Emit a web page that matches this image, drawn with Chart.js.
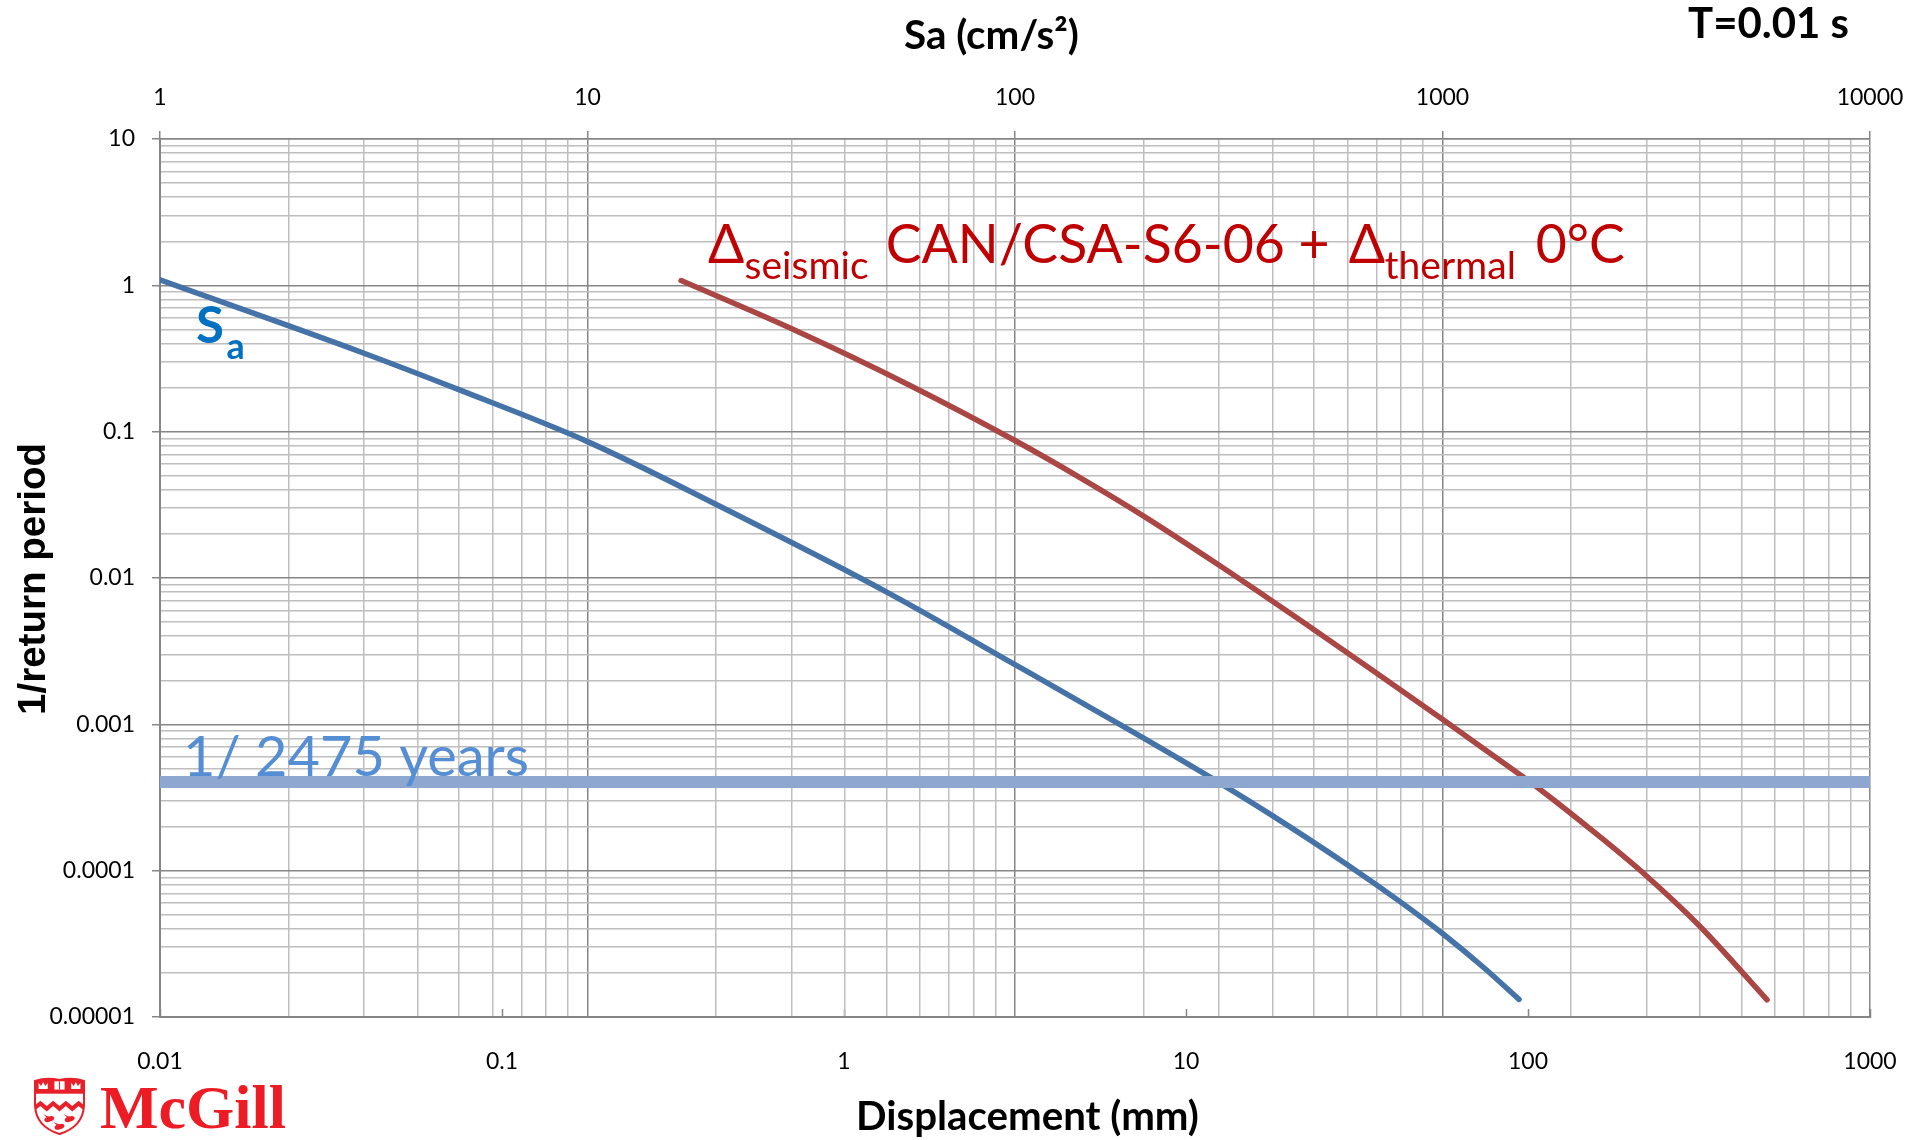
<!DOCTYPE html>
<html>
<head>
<meta charset="utf-8">
<script src="https://cdn.jsdelivr.net/npm/chart.js@4.4.1/dist/chart.umd.min.js"></script>
<style>
  html, body { margin: 0; padding: 0; background: #ffffff; }
  #wrap { width: 1909px; height: 1140px; position: relative; }
</style>
</head>
<body>
<div id="wrap"><canvas id="c" width="1909" height="1140"></canvas></div>
<script>
// ---------------- DATA ----------------
// Hazard curve of spectral acceleration Sa (top axis, cm/s^2)
const saValues = [1, 3, 5, 10, 20, 50, 100, 200, 300, 400, 600, 800, 1000, 1250, 1510];
const saRates  = [1.089, 0.3436, 0.1936, 0.0855, 0.0318, 0.00804, 0.00256, 0.000804, 0.000400,
                  0.000238, 0.0001094, 0.0000607, 0.0000372, 0.0000217, 0.0000132];

// Displacement demand curve (bottom axis, mm)
const dispValues = [0.334, 0.706, 1.56, 3.18, 4.91, 7.54, 12.6, 17.2, 21.6, 34.5, 56.6, 94.8,
                    108.5, 162.5, 220, 318, 500];
const dispRates  = [1.079, 0.503, 0.207, 0.0863, 0.0484, 0.0264, 0.01208, 0.00739, 0.00515, 0.00241,
                    0.00107, 0.000452, 0.000359, 0.000170, 0.0000938, 0.0000417, 0.0000131];

// Design return period (horizontal line)
const designReturnPeriod = 2475;

// Axis ticks
const saMajorTicks   = [1, 10, 100, 1000, 10000];
const saTickLabels   = ['1', '10', '100', '1000', '10000'];
const dispMajorTicks = [0.01, 0.1, 1, 10, 100, 1000];
const dispTickLabels = ['0.01', '0.1', '1', '10', '100', '1000'];
const rateMajorTicks = [0.00001, 0.0001, 0.001, 0.01, 0.1, 1, 10];
const rateTickLabels = ['0.00001', '0.0001', '0.001', '0.01', '0.1', '1', '10'];

// ---------------- STYLE ----------------
const GRID_MAJOR = '#868686';
const GRID_MINOR = '#BEBEBE';
const TICK_FONT = { family: "Lato, 'Open Sans', sans-serif", size: 23 };

function sameLog(a, b) { return Math.abs(Math.log10(a) - Math.log10(b)) < 1e-6; }
function isMajor(majors, v) { return majors.some(m => sameLog(m, v)); }
function withMinors(majors) {
  const out = [];
  for (let i = 0; i < majors.length - 1; i++) {
    for (let m = 1; m <= 9; m++) out.push({ value: +(majors[i] * m).toPrecision(6) });
  }
  out.push({ value: majors[majors.length - 1] });
  return out;
}
function labeler(majors, labels) {
  return v => { const i = majors.findIndex(m => sameLog(m, v)); return i >= 0 ? labels[i] : ''; };
}

// ---------------- ANNOTATIONS ----------------
function fitSize(ctx, text, weight, family, targetWidth) {
  ctx.font = weight + ' 100px ' + family;
  return 100 * targetWidth / ctx.measureText(text).width;
}
function fitText(ctx, text, weight, family, x, y, targetWidth, color) {
  const s = fitSize(ctx, text, weight, family, targetWidth);
  ctx.font = weight + ' ' + s + 'px ' + family;
  ctx.fillStyle = color;
  ctx.textAlign = 'left';
  ctx.textBaseline = 'alphabetic';
  ctx.fillText(text, x, y);
  return s;
}
function drawShield(ctx, x, y, w, h) {
  const red = '#E8202A';
  ctx.save();
  ctx.translate(x, y);
  ctx.beginPath();
  ctx.moveTo(1, 5);
  ctx.quadraticCurveTo(w * 0.25, 1, w * 0.5, 4);
  ctx.quadraticCurveTo(w * 0.75, 1, w - 1, 5);
  ctx.lineTo(w - 1, h * 0.5);
  ctx.quadraticCurveTo(w - 2, h * 0.86, w * 0.5, h - 1);
  ctx.quadraticCurveTo(2, h * 0.86, 1, h * 0.5);
  ctx.closePath();
  ctx.fillStyle = '#fff';
  ctx.fill();
  ctx.lineWidth = 2;
  ctx.strokeStyle = red;
  ctx.stroke();
  ctx.save();
  ctx.clip();
  ctx.fillStyle = red;
  ctx.fillRect(0, 0, w, h * 0.3);
  ctx.fillStyle = '#fff';
  ctx.fillRect(w * 0.4, h * 0.09, w * 0.2, h * 0.14);
  ctx.fillStyle = red;
  ctx.fillRect(w * 0.49, h * 0.09, w * 0.02, h * 0.14);
  ctx.fillStyle = '#fff';
  [0.18, 0.82].forEach(cx => {
    ctx.beginPath();
    ctx.moveTo(w * (cx - 0.09), h * 0.22);
    ctx.lineTo(w * (cx - 0.09), h * 0.12);
    ctx.lineTo(w * (cx - 0.04), h * 0.17);
    ctx.lineTo(w * cx, h * 0.1);
    ctx.lineTo(w * (cx + 0.04), h * 0.17);
    ctx.lineTo(w * (cx + 0.09), h * 0.12);
    ctx.lineTo(w * (cx + 0.09), h * 0.22);
    ctx.closePath();
    ctx.fill();
  });
  ctx.fillStyle = red;
  ctx.beginPath();
  const n = 4, top = h * 0.42, amp = h * 0.09, bw = h * 0.09;
  ctx.moveTo(0, top + amp);
  for (let i = 0; i <= n * 2; i++) ctx.lineTo(w * i / (n * 2), i % 2 ? top : top + amp);
  for (let i = n * 2; i >= 0; i--) ctx.lineTo(w * i / (n * 2), (i % 2 ? top : top + amp) + bw);
  ctx.closePath();
  ctx.fill();
  [[0.3, 0.73], [0.7, 0.73], [0.5, 0.86]].forEach(([mx, my]) => {
    ctx.beginPath();
    ctx.ellipse(w * mx, h * my, w * 0.1, h * 0.045, -0.3, 0, Math.PI * 2);
    ctx.fill();
    ctx.beginPath();
    ctx.moveTo(w * (mx - 0.02), h * my);
    ctx.lineTo(w * (mx - 0.12), h * (my - 0.08));
    ctx.lineTo(w * (mx + 0.04), h * (my - 0.02));
    ctx.fill();
  });
  ctx.restore();
  ctx.restore();
}

const annotations = {
  id: 'annotations',
  afterDraw(chart) {
    const ctx = chart.ctx;
    const sans = "Lato, 'Open Sans', sans-serif";
    ctx.save();
    fitText(ctx, 'Sa (cm/s²)', 'bold', sans, 904, 49, 175, '#000');
    fitText(ctx, 'T=0.01 s', 'bold', sans, 1688, 38, 161, '#000');
    fitText(ctx, 'Displacement (mm)', 'bold', sans, 856, 1130, 343, '#000');
    ctx.save();
    ctx.translate(44.5, 579);
    ctx.rotate(-Math.PI / 2);
    const ys = fitSize(ctx, '1/return period', 'bold', "'Liberation Sans', Arial, sans-serif", 272);
    ctx.font = 'bold ' + ys + "px 'Liberation Sans', Arial, sans-serif";
    ctx.fillStyle = '#000';
    ctx.textAlign = 'center';
    ctx.textBaseline = 'alphabetic';
    ctx.fillText('1/return period', 0, 0);
    ctx.restore();
    fitText(ctx, 'S', 'bold', sans, 196, 343, 28, '#0070C0');
    fitText(ctx, 'a', 'bold', sans, 226.4, 359, 18.2, '#0070C0');
    const red = '#C00000';
    const mainSize = fitSize(ctx, 'CAN/CSA-S6-06 +', 'normal', sans, 444);
    const subSize = fitSize(ctx, 'seismic', 'normal', sans, 124);
    ctx.fillStyle = red;
    ctx.textBaseline = 'alphabetic';
    ctx.textAlign = 'left';
    ctx.font = 'normal ' + mainSize + 'px ' + sans;
    ctx.fillText('Δ', 708, 263);
    ctx.fillText('CAN/CSA-S6-06 +', 885.7, 263);
    ctx.fillText('Δ', 1348.8, 263);
    ctx.fillText('0°C', 1535.8, 263);
    ctx.font = 'normal ' + subSize + 'px ' + sans;
    ctx.fillText('seismic', 744.6, 279);
    ctx.fillText('thermal', 1384.5, 279);
    fitText(ctx, '1/ ' + designReturnPeriod + ' years', 'normal', sans, 183, 776, 346, '#558ED5');
    drawShield(ctx, 34, 1076, 51, 59);
    fitText(ctx, 'McGill', 'bold', "'Liberation Serif', 'Times New Roman', serif", 100, 1128, 186, '#ED1C24');
    ctx.restore();
  }
};

// ---------------- CHART ----------------
const rateLine = 1 / designReturnPeriod;
new Chart(document.getElementById('c'), {
  type: 'line',
  data: {
    datasets: [
      {
        label: '1/' + designReturnPeriod + ' years',
        data: [{ x: dispMajorTicks[0], y: rateLine }, { x: dispMajorTicks[dispMajorTicks.length - 1], y: rateLine }],
        xAxisID: 'x', yAxisID: 'y',
        borderColor: '#8DA7D0', borderWidth: 12, pointRadius: 0, borderCapStyle: 'butt'
      },
      {
        label: 'Sa',
        data: saValues.map((v, i) => ({ x: v, y: saRates[i] })),
        xAxisID: 'x2', yAxisID: 'y',
        borderColor: '#4572A7', borderWidth: 5.5, pointRadius: 0,
        borderCapStyle: 'round', borderJoinStyle: 'round', cubicInterpolationMode: 'monotone'
      },
      {
        label: 'Δseismic CAN/CSA-S6-06 + Δthermal 0°C',
        data: dispValues.map((v, i) => ({ x: v, y: dispRates[i] })),
        xAxisID: 'x', yAxisID: 'y',
        borderColor: '#AA4643', borderWidth: 5.5, pointRadius: 0,
        borderCapStyle: 'round', borderJoinStyle: 'round', cubicInterpolationMode: 'monotone'
      }
    ]
  },
  options: {
    responsive: false,
    animation: false,
    events: [],
    layout: { padding: { left: 0, right: 39, top: 0, bottom: 0 } },
    plugins: { legend: { display: false }, tooltip: { enabled: false } },
    scales: {
      x: {
        type: 'logarithmic', position: 'bottom',
        min: dispMajorTicks[0], max: dispMajorTicks[dispMajorTicks.length - 1],
        afterBuildTicks: s => { s.ticks = dispMajorTicks.map(v => ({ value: v })); },
        afterFit: s => { s.height = 123; s.paddingLeft = 0; s.paddingRight = 0; },
        ticks: {
          autoSkip: false, maxRotation: 0, minRotation: 0, padding: 39,
          font: TICK_FONT, color: '#000',
          callback: labeler(dispMajorTicks, dispTickLabels)
        },
        grid: { drawOnChartArea: false, drawTicks: true, tickLength: -8, tickColor: GRID_MAJOR, tickWidth: 1.5 },
        border: { display: true, color: GRID_MAJOR, width: 2 }
      },
      x2: {
        type: 'logarithmic', position: 'top',
        min: saMajorTicks[0], max: saMajorTicks[saMajorTicks.length - 1],
        afterBuildTicks: s => { s.ticks = withMinors(saMajorTicks); },
        afterFit: s => { s.height = 139; s.paddingLeft = 0; s.paddingRight = 0; },
        ticks: {
          autoSkip: false, maxRotation: 0, minRotation: 0, padding: 20,
          font: TICK_FONT, color: '#000',
          callback: labeler(saMajorTicks, saTickLabels)
        },
        grid: {
          color: c => (c.tick && isMajor(saMajorTicks, c.tick.value)) ? GRID_MAJOR : GRID_MINOR,
          lineWidth: 1.5, tickLength: 8, tickWidth: 1.5,
          tickColor: c => (c.tick && isMajor(saMajorTicks, c.tick.value)) ? GRID_MAJOR : 'rgba(0,0,0,0)'
        },
        border: { display: true, color: GRID_MAJOR, width: 1.5 }
      },
      y: {
        type: 'logarithmic', position: 'left',
        min: rateMajorTicks[0], max: rateMajorTicks[rateMajorTicks.length - 1],
        afterBuildTicks: s => { s.ticks = withMinors(rateMajorTicks); },
        afterFit: s => { s.width = 160; s.paddingTop = 0; s.paddingBottom = 0; },
        ticks: {
          autoSkip: false, padding: 17,
          font: TICK_FONT, color: '#000',
          callback: labeler(rateMajorTicks, rateTickLabels)
        },
        grid: {
          color: c => (c.tick && isMajor(rateMajorTicks, c.tick.value)) ? GRID_MAJOR : GRID_MINOR,
          lineWidth: 1.5, tickLength: 8, tickWidth: 1.5,
          tickColor: c => (c.tick && isMajor(rateMajorTicks, c.tick.value)) ? GRID_MAJOR : 'rgba(0,0,0,0)'
        },
        border: { display: true, color: GRID_MAJOR, width: 2 }
      }
    }
  },
  plugins: [annotations]
});
</script>
</body>
</html>
